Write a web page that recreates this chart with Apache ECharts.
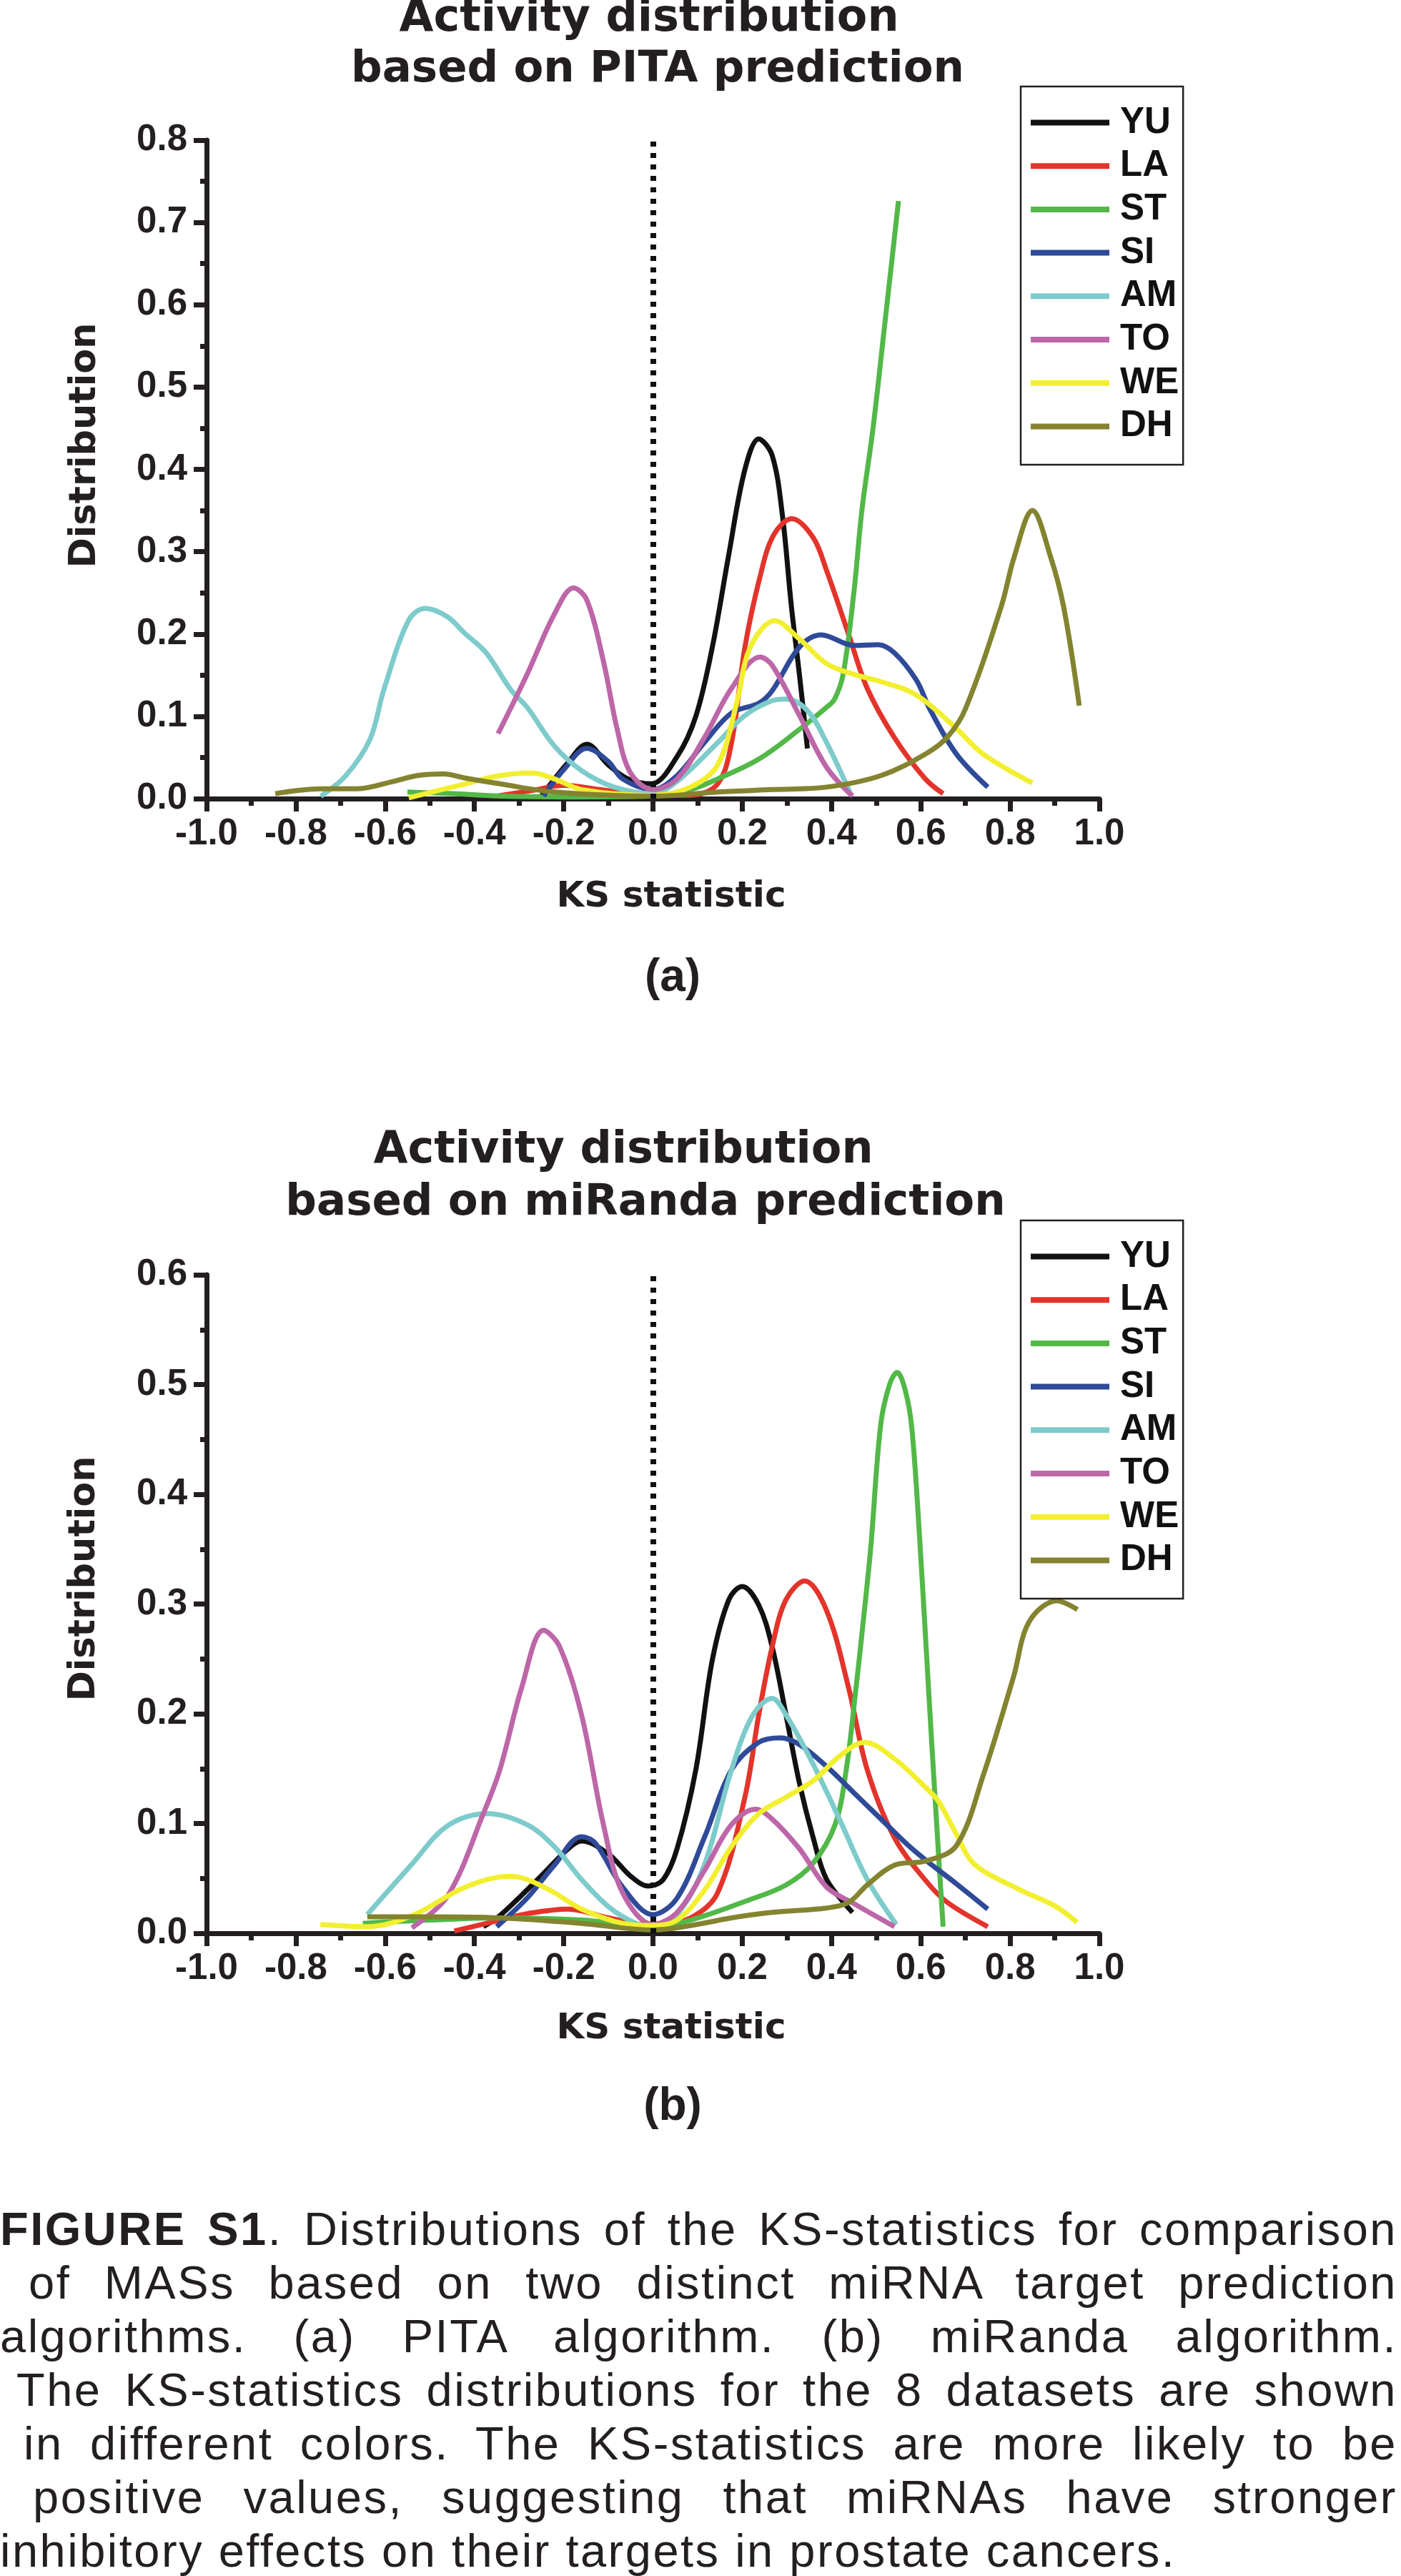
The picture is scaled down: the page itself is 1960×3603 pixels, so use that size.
<!DOCTYPE html>
<html>
<head>
<meta charset="utf-8">
<script src="https://cdn.jsdelivr.net/npm/echarts/dist/echarts.min.js"></script>
<style>
html,body{margin:0;padding:0;background:#fff;width:1960px;height:3603px;overflow:hidden;}
#chart{position:absolute;left:0;top:0;width:1960px;height:3050px;}
#caption{position:absolute;left:0;top:3080px;width:1955px;font-family:"Liberation Sans",Arial,sans-serif;font-size:65px;line-height:75px;letter-spacing:2.5px;color:#231f20;}
#caption .j{text-align:justify;text-align-last:justify;}
#caption b{font-weight:700;}
</style>
</head>
<body>
<div id="chart"></div>
<div id="caption">
<div class="j"><b>FIGURE S1</b>. Distributions of the KS-statistics for comparison</div>
<div class="j" style="padding-left:40px">of MASs based on two distinct miRNA target prediction</div>
<div class="j">algorithms. (a) PITA algorithm. (b) miRanda algorithm.</div>
<div class="j" style="padding-left:23px">The KS-statistics distributions for the 8 datasets are shown</div>
<div class="j" style="padding-left:33px">in different colors. The KS-statistics are more likely to be</div>
<div class="j" style="padding-left:46px">positive values, suggesting that miRNAs have stronger</div>
<div>inhibitory effects on their targets in prostate cancers.</div>
</div>
<script>
// ---------- data ----------
const datasetNames = ['YU', 'LA', 'ST', 'SI', 'AM', 'TO', 'WE', 'DH'];

// (a) PITA prediction : [KS statistic, distribution]
const pitaYU = [[-0.25,0.003],[-0.19,0.044],[-0.148,0.066],[-0.1,0.041],[-0.056,0.024],[-0.004,0.018],[0.054,0.051],[0.096,0.10],[0.133,0.184],[0.17,0.297],[0.206,0.40],[0.237,0.437],[0.267,0.417],[0.29,0.344],[0.31,0.234],[0.328,0.151],[0.346,0.061]];
const pitaLA = [[-0.35,0.003],[-0.27,0.01],[-0.2,0.016],[-0.12,0.011],[-0.05,0.006],[0,0.004],[0.084,0.004],[0.145,0.018],[0.176,0.068],[0.206,0.184],[0.24,0.27],[0.27,0.32],[0.311,0.34],[0.359,0.317],[0.389,0.277],[0.438,0.2],[0.48,0.134],[0.541,0.074],[0.61,0.024],[0.65,0.006]];
const pitaST = [[-0.55,0.008],[-0.45,0.006],[-0.34,0.003],[-0.2,0.002],[0,0.003],[0.084,0.011],[0.145,0.024],[0.237,0.048],[0.328,0.084],[0.389,0.111],[0.407,0.121],[0.426,0.151],[0.45,0.25],[0.468,0.35],[0.493,0.45],[0.52,0.58],[0.55,0.726]];
const pitaSI = [[-0.245,0.003],[-0.2,0.035],[-0.148,0.061],[-0.1,0.045],[-0.068,0.024],[0,0.011],[0.054,0.028],[0.115,0.068],[0.176,0.104],[0.237,0.116],[0.267,0.131],[0.328,0.184],[0.377,0.199],[0.45,0.186],[0.505,0.187],[0.541,0.177],[0.59,0.144],[0.62,0.109],[0.68,0.054],[0.75,0.014]];
const pitaAM = [[-0.744,0.003],[-0.688,0.028],[-0.634,0.072],[-0.603,0.132],[-0.547,0.217],[-0.51,0.231],[-0.461,0.221],[-0.42,0.2],[-0.375,0.178],[-0.318,0.132],[-0.282,0.111],[-0.221,0.064],[-0.16,0.034],[-0.087,0.014],[0,0.006],[0.054,0.021],[0.145,0.068],[0.206,0.101],[0.267,0.119],[0.298,0.121],[0.346,0.107],[0.389,0.068],[0.444,0.004]];
const pitaTO = [[-0.347,0.079],[-0.282,0.151],[-0.221,0.224],[-0.178,0.256],[-0.148,0.241],[-0.111,0.167],[-0.08,0.084],[-0.05,0.031],[0,0.011],[0.054,0.024],[0.115,0.074],[0.176,0.134],[0.24,0.172],[0.267,0.162],[0.328,0.101],[0.389,0.038],[0.447,0.003]];
const pitaWE = [[-0.547,0.001],[-0.42,0.018],[-0.343,0.028],[-0.27,0.031],[-0.221,0.024],[-0.16,0.011],[0,0.004],[0.084,0.014],[0.145,0.041],[0.188,0.117],[0.218,0.184],[0.273,0.216],[0.328,0.194],[0.389,0.164],[0.45,0.151],[0.511,0.142],[0.572,0.131],[0.613,0.117],[0.68,0.085],[0.74,0.054],[0.85,0.019]];
const pitaDH = [[-0.846,0.006],[-0.795,0.010],[-0.742,0.012],[-0.662,0.012],[-0.581,0.021],[-0.528,0.028],[-0.469,0.030],[-0.421,0.025],[-0.343,0.018],[-0.221,0.008],[0,0.003],[0.145,0.008],[0.267,0.011],[0.389,0.014],[0.511,0.028],[0.613,0.055],[0.66,0.075],[0.7,0.109],[0.78,0.233],[0.81,0.295],[0.85,0.35],[0.89,0.295],[0.92,0.233],[0.955,0.113]];

// (b) miRanda prediction
const mirYU = [[-0.38,0.006],[-0.343,0.016],[-0.251,0.052],[-0.19,0.077],[-0.16,0.084],[-0.099,0.072],[-0.05,0.052],[-0.01,0.043],[0.023,0.049],[0.054,0.077],[0.096,0.149],[0.133,0.249],[0.17,0.304],[0.2,0.316],[0.237,0.299],[0.267,0.261],[0.298,0.199],[0.328,0.137],[0.359,0.087],[0.389,0.049],[0.447,0.019]];
const mirLA = [[-0.445,0.002],[-0.343,0.012],[-0.28,0.018],[-0.19,0.022],[-0.1,0.014],[0,0.007],[0.084,0.014],[0.145,0.037],[0.206,0.124],[0.237,0.199],[0.267,0.261],[0.298,0.304],[0.34,0.321],[0.389,0.294],[0.438,0.224],[0.48,0.149],[0.541,0.087],[0.613,0.047],[0.66,0.028],[0.75,0.006]];
const mirST = [[-0.65,0.009],[-0.5,0.012],[-0.343,0.014],[-0.16,0.012],[0,0.006],[0.084,0.012],[0.206,0.029],[0.298,0.044],[0.359,0.064],[0.408,0.099],[0.433,0.149],[0.455,0.224],[0.47,0.28],[0.488,0.352],[0.51,0.463],[0.53,0.5],[0.547,0.511],[0.565,0.495],[0.58,0.46],[0.598,0.356],[0.612,0.26],[0.625,0.17],[0.64,0.07],[0.65,0.006]];
const mirSI = [[-0.35,0.006],[-0.282,0.032],[-0.221,0.062],[-0.16,0.088],[-0.129,0.082],[-0.068,0.042],[0,0.017],[0.054,0.032],[0.115,0.087],[0.176,0.149],[0.237,0.174],[0.285,0.178],[0.328,0.172],[0.389,0.152],[0.45,0.128],[0.511,0.104],[0.572,0.08],[0.613,0.066],[0.68,0.045],[0.75,0.022]];
const mirAM = [[-0.64,0.017],[-0.54,0.063],[-0.46,0.098],[-0.37,0.109],[-0.282,0.099],[-0.221,0.079],[-0.16,0.049],[-0.099,0.024],[-0.038,0.009],[0,0.006],[0.054,0.017],[0.115,0.062],[0.176,0.149],[0.224,0.199],[0.267,0.214],[0.298,0.199],[0.359,0.154],[0.42,0.102],[0.48,0.049],[0.545,0.008]];
const mirTO = [[-0.54,0.005],[-0.46,0.034],[-0.38,0.109],[-0.343,0.149],[-0.294,0.224],[-0.245,0.276],[-0.209,0.261],[-0.16,0.199],[-0.111,0.099],[-0.068,0.037],[0,0.008],[0.054,0.019],[0.115,0.057],[0.176,0.099],[0.23,0.113],[0.267,0.104],[0.328,0.077],[0.389,0.042],[0.45,0.027],[0.541,0.006]];
const mirWE = [[-0.745,0.008],[-0.64,0.006],[-0.54,0.016],[-0.42,0.042],[-0.32,0.052],[-0.282,0.049],[-0.221,0.037],[-0.16,0.022],[-0.068,0.009],[0,0.007],[0.054,0.012],[0.115,0.039],[0.176,0.079],[0.237,0.109],[0.298,0.124],[0.359,0.139],[0.42,0.162],[0.474,0.174],[0.541,0.159],[0.613,0.132],[0.64,0.12],[0.68,0.09],[0.72,0.063],[0.82,0.04],[0.9,0.025],[0.95,0.01]];
const mirDH = [[-0.64,0.015],[-0.5,0.015],[-0.343,0.014],[-0.16,0.009],[0,0.003],[0.084,0.007],[0.176,0.014],[0.267,0.019],[0.389,0.023],[0.438,0.028],[0.48,0.044],[0.541,0.062],[0.613,0.066],[0.68,0.08],[0.74,0.144],[0.808,0.234],[0.843,0.284],[0.905,0.303],[0.951,0.295]];

const pitaSeries = [pitaYU, pitaLA, pitaST, pitaSI, pitaAM, pitaTO, pitaWE, pitaDH];
const mirSeries = [mirYU, mirLA, mirST, mirSI, mirAM, mirTO, mirWE, mirDH];

const xRange = {min: -1, max: 1, interval: 0.2};
const yRangeA = {min: 0, max: 0.8, interval: 0.1};
const yRangeB = {min: 0, max: 0.6, interval: 0.1};

// ---------- styles ----------
const INK = '#231f20';
const lineColors = ['#111111', '#e3342b', '#52b848', '#2e4a98', '#7ecbcb', '#bd66a8', '#f2ef30', '#84832f'];
const tickFont = 'Liberation Sans';
const headFont = '"DejaVu Sans"';

function fmt(v) { return Math.abs(v) < 1e-9 ? '0.0' : v.toFixed(1); }

function xAxisCfg(gi) {
  return {
    type: 'value', gridIndex: gi, min: xRange.min, max: xRange.max, interval: xRange.interval,
    axisLine: {show: true, onZero: false, lineStyle: {color: INK, width: 7}},
    axisTick: {show: true, inside: false, length: 18, lineStyle: {color: INK, width: 7}},
    minorTick: {show: true, splitNumber: 2, length: 10, lineStyle: {color: INK, width: 7}},
    splitLine: {show: false}, minorSplitLine: {show: false},
    axisLabel: {margin: 24, color: INK, fontFamily: tickFont, fontWeight: 'bold', fontSize: 51, formatter: fmt}
  };
}
function yAxisCfg(gi, r) {
  return {
    type: 'value', gridIndex: gi, min: r.min, max: r.max, interval: r.interval,
    axisLine: {show: true, onZero: false, lineStyle: {color: INK, width: 7}},
    axisTick: {show: true, inside: false, length: 18, lineStyle: {color: INK, width: 7}},
    minorTick: {show: true, splitNumber: 2, length: 9, lineStyle: {color: INK, width: 7}},
    splitLine: {show: false}, minorSplitLine: {show: false},
    axisLabel: {margin: 27, color: INK, fontFamily: tickFont, fontWeight: 'bold', fontSize: 51, formatter: fmt}
  };
}
function legendCfg(top) {
  return {
    orient: 'vertical', left: 1428, top: top, data: datasetNames,
    icon: 'rect', itemWidth: 110, itemHeight: 8, itemGap: 9.7,
    padding: [25, 6, 28, 14], backgroundColor: '#ffffff',
    borderColor: INK, borderWidth: 2.5, selectedMode: false,
    textStyle: {color: '#111', fontFamily: tickFont, fontWeight: 'bold', fontSize: 51, lineHeight: 51, padding: [0, 0, 0, 10]}
  };
}
function buildSeries(dataList, gi) {
  return dataList.map((d, i) => {
    const s = {
      name: datasetNames[i], type: 'line', xAxisIndex: gi, yAxisIndex: gi,
      data: d, color: lineColors[i], showSymbol: false, symbol: 'none',
      smooth: 0.35,
      lineStyle: {width: 7, color: lineColors[i]}, z: 2
    };
    if (i === 0) {
      s.markLine = {
        silent: true, symbol: ['none', 'none'], label: {show: false}, animation: false,
        lineStyle: {color: '#111', width: 8, type: [7, 9]},
        data: [{xAxis: 0}]
      };
    }
    return s;
  });
}
function txt(text, x, y, font, rot) {
  return {type: 'text', x: x, y: y, rotation: rot || 0, z: 10,
    style: {text: text, font: font, fill: INK, align: 'center', verticalAlign: 'middle'}};
}

const chart = echarts.init(document.getElementById('chart'), null, {renderer: 'canvas'});
chart.setOption({
  animation: false,
  backgroundColor: '#ffffff',
  grid: [
    {left: 289, top: 196, width: 1249, height: 921, containLabel: false},
    {left: 289, top: 1783, width: 1249, height: 921, containLabel: false}
  ],
  xAxis: [xAxisCfg(0), xAxisCfg(1)],
  yAxis: [yAxisCfg(0, yRangeA), yAxisCfg(1, yRangeB)],
  legend: [legendCfg(121), legendCfg(1707)],
  series: buildSeries(pitaSeries, 0).concat(buildSeries(mirSeries, 1)),
  graphic: [
    txt('Activity distribution', 908, 27, 'bold 62px ' + headFont),
    txt('based on PITA prediction', 920, 98, 'bold 61px ' + headFont),
    txt('Distribution', 120, 623, 'bold 51px ' + headFont, Math.PI / 2),
    txt('KS statistic', 939, 1255, 'bold 50px ' + headFont),
    txt('(a)', 941, 1368, 'bold 64px "Liberation Sans"'),
    txt('Activity distribution', 872, 1610, 'bold 62px ' + headFont),
    txt('based on miRanda prediction', 903, 1683, 'bold 61px ' + headFont),
    txt('Distribution', 119, 2208, 'bold 51px ' + headFont, Math.PI / 2),
    txt('KS statistic', 939, 2838, 'bold 50px ' + headFont),
    txt('(b)', 941, 2947, 'bold 64px "Liberation Sans"')
  ]
});
</script>
</body>
</html>
